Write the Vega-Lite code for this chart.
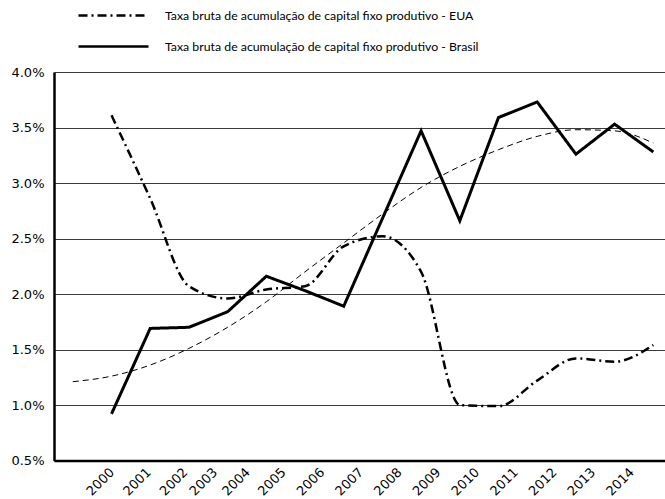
{
  "$schema": "https://vega.github.io/schema/vega-lite/v6.json",
  "width": 611,
  "height": 388.5,
  "autosize": {"type": "none"},
  "padding": {"left": 54, "top": 72, "right": 0, "bottom": 38.5},
  "background": "white",
  "config": {"view": {"stroke": null}},
  "data": {"values": [
    {"ano": 2000, "valor": 3.61, "serie": "EUA"},
    {"ano": 2001, "valor": 2.86, "serie": "EUA"},
    {"ano": 2002, "valor": 2.07, "serie": "EUA"},
    {"ano": 2003, "valor": 1.96, "serie": "EUA"},
    {"ano": 2004, "valor": 2.04, "serie": "EUA"},
    {"ano": 2005, "valor": 2.07, "serie": "EUA"},
    {"ano": 2006, "valor": 2.43, "serie": "EUA"},
    {"ano": 2007, "valor": 2.52, "serie": "EUA"},
    {"ano": 2008, "valor": 2.20, "serie": "EUA"},
    {"ano": 2009, "valor": 1.00, "serie": "EUA"},
    {"ano": 2010, "valor": 0.99, "serie": "EUA"},
    {"ano": 2011, "valor": 1.22, "serie": "EUA"},
    {"ano": 2012, "valor": 1.42, "serie": "EUA"},
    {"ano": 2013, "valor": 1.39, "serie": "EUA"},
    {"ano": 2014, "valor": 1.54, "serie": "EUA"},
    {"ano": 2000, "valor": 0.92, "serie": "Brasil"},
    {"ano": 2001, "valor": 1.69, "serie": "Brasil"},
    {"ano": 2002, "valor": 1.70, "serie": "Brasil"},
    {"ano": 2003, "valor": 1.84, "serie": "Brasil"},
    {"ano": 2004, "valor": 2.16, "serie": "Brasil"},
    {"ano": 2005, "valor": 2.03, "serie": "Brasil"},
    {"ano": 2006, "valor": 1.89, "serie": "Brasil"},
    {"ano": 2007, "valor": 2.68, "serie": "Brasil"},
    {"ano": 2008, "valor": 3.47, "serie": "Brasil"},
    {"ano": 2009, "valor": 2.66, "serie": "Brasil"},
    {"ano": 2010, "valor": 3.59, "serie": "Brasil"},
    {"ano": 2011, "valor": 3.73, "serie": "Brasil"},
    {"ano": 2012, "valor": 3.26, "serie": "Brasil"},
    {"ano": 2013, "valor": 3.53, "serie": "Brasil"},
    {"ano": 2014, "valor": 3.28, "serie": "Brasil"},
    {"ano": 1999, "valor": 1.21, "serie": "Tendencia"},
    {"ano": 2000, "valor": 1.26, "serie": "Tendencia"},
    {"ano": 2001, "valor": 1.36, "serie": "Tendencia"},
    {"ano": 2002, "valor": 1.51, "serie": "Tendencia"},
    {"ano": 2003, "valor": 1.70, "serie": "Tendencia"},
    {"ano": 2004, "valor": 1.93, "serie": "Tendencia"},
    {"ano": 2005, "valor": 2.20, "serie": "Tendencia"},
    {"ano": 2006, "valor": 2.46, "serie": "Tendencia"},
    {"ano": 2007, "valor": 2.72, "serie": "Tendencia"},
    {"ano": 2008, "valor": 2.96, "serie": "Tendencia"},
    {"ano": 2009, "valor": 3.15, "serie": "Tendencia"},
    {"ano": 2010, "valor": 3.30, "serie": "Tendencia"},
    {"ano": 2011, "valor": 3.42, "serie": "Tendencia"},
    {"ano": 2012, "valor": 3.48, "serie": "Tendencia"},
    {"ano": 2013, "valor": 3.47, "serie": "Tendencia"},
    {"ano": 2014, "valor": 3.36, "serie": "Tendencia"}
  ]},
  "encoding": {
    "x": {
      "field": "ano", "type": "quantitative",
      "scale": {"domain": [1998.514, 2014.302], "nice": false, "zero": false},
      "axis": {
        "title": null, "grid": false, "ticks": false,
        "values": [2000, 2001, 2002, 2003, 2004, 2005, 2006, 2007, 2008, 2009, 2010, 2011, 2012, 2013, 2014],
        "format": "d",
        "labelAngle": -45, "labelAlign": "right", "labelBaseline": "top",
        "labelFont": "DejaVu Sans", "labelFontSize": 13, "labelColor": "black",
        "labelPadding": 5, "labelOverlap": false, "labelFlush": false,
        "labelOffset": {"condition": [
          {"test": "datum.value <= 2000", "value": -4},
          {"test": "datum.value == 2001", "value": -6},
          {"test": "datum.value == 2002", "value": -8},
          {"test": "datum.value == 2003", "value": -17},
          {"test": "datum.value == 2004", "value": -23}
        ], "value": -26},
        "domainColor": "black", "domainWidth": 2.5
      }
    },
    "y": {
      "field": "valor", "type": "quantitative",
      "scale": {"domain": [0.5, 4.0], "nice": false, "zero": false},
      "axis": {
        "title": null, "ticks": false,
        "values": [0.5, 1.0, 1.5, 2.0, 2.5, 3.0, 3.5, 4.0],
        "labelExpr": "format(datum.value, '.1f') + '%'",
        "labelFont": "DejaVu Sans", "labelFontSize": 13, "labelColor": "black",
        "labelPadding": 10,
        "gridColor": "#3a3a3a", "gridWidth": 1.2,
        "domainColor": "black", "domainWidth": 2.5
      }
    }
  },
  "layer": [
    {
      "transform": [{"filter": "datum.serie == 'Tendencia'"}],
      "mark": {"type": "line", "interpolate": "monotone", "color": "black", "strokeWidth": 1, "strokeDash": [6, 4]},
      "encoding": {}
    },
    {
      "transform": [{"filter": "datum.serie == 'EUA'"}],
      "mark": {"type": "line", "interpolate": "monotone", "color": "black", "strokeWidth": 2.5},
      "encoding": {
        "strokeDash": {
          "field": "serie", "type": "nominal",
          "scale": {"domain": ["EUA", "Brasil"], "range": [[9, 4, 2, 4], [1, 0]]},
          "legend": {
            "orient": "none", "legendX": 51, "legendY": -65,
            "direction": "vertical", "title": null, "padding": 0,
            "symbolType": "M-5,0H5", "symbolSize": 196, "symbolStrokeWidth": 2.7,
            "symbolStrokeColor": "black",
            "labelFont": "Lato", "labelFontSize": 12.3, "labelColor": "black",
            "labelLimit": 600, "labelOffset": 43, "rowPadding": 16,
            "labelExpr": "'Taxa bruta de acumulação de capital fixo produtivo - ' + datum.label"
          }
        }
      }
    },
    {
      "transform": [{"filter": "datum.serie == 'Brasil'"}],
      "mark": {"type": "line", "interpolate": "linear", "color": "black", "strokeWidth": 3},
      "encoding": {
        "strokeDash": {"field": "serie", "type": "nominal"}
      }
    }
  ]
}
